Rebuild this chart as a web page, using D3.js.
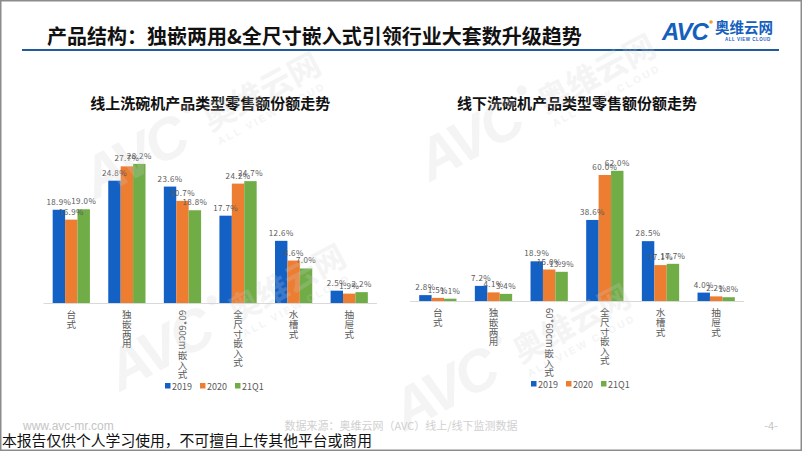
<!DOCTYPE html>
<html>
<head>
<meta charset="utf-8">
<script src="https://cdn.jsdelivr.net/npm/d3@7"></script>
<style>
  body { margin: 0; background: #fff; }
  svg { display: block; font-family: "Noto Sans CJK SC", "Noto Sans", sans-serif; }
</style>
</head>
<body>
<svg id="chart" width="802" height="451"></svg>
<script>
// categories and series
var categories = ["台式", "独嵌两用", "60*60cm嵌入式", "全尺寸嵌入式", "水槽式", "抽屉式"];
var seriesNames = ["2019", "2020", "21Q1"];
var seriesColors = ["#1461c6", "#ed7d31", "#70ad47"];

// online share (%)
var online2019 = [18.9, 24.8, 23.6, 17.7, 12.6, 2.5];
var online2020 = [16.9, 27.7, 20.7, 24.2, 8.6, 1.9];
var online21Q1 = [19.0, 28.2, 18.8, 24.7, 7.0, 2.2];

// offline share (%)
var offline2019 = [2.8, 7.2, 18.9, 38.6, 28.5, 4.0];
var offline2020 = [1.5, 4.1, 15.0, 60.0, 17.1, 2.2];
var offline21Q1 = [1.1, 3.4, 13.9, 62.0, 17.7, 1.8];

var svg = d3.select("#chart");

// page frame
svg.append("rect")
  .attr("x", 0.75).attr("y", 0.75)
  .attr("width", 800.5).attr("height", 449.5)
  .attr("fill", "#fff").attr("stroke", "#8c8c8c").attr("stroke-width", 1.5);

// header
svg.append("text")
  .attr("x", 47).attr("y", 44)
  .attr("font-size", 20).attr("font-weight", "bold").attr("fill", "#111")
  .text("产品结构：独嵌两用&全尺寸嵌入式引领行业大套数升级趋势");

svg.append("line")
  .attr("x1", 22).attr("x2", 779).attr("y1", 50).attr("y2", 50)
  .attr("stroke", "#1f5c99").attr("stroke-width", 2);

// logo
var logo = svg.append("g");
logo.append("text")
  .attr("x", 662).attr("y", 40)
  .attr("font-family", "Liberation Sans, sans-serif")
  .attr("font-size", 24).attr("font-weight", "bold").attr("font-style", "italic")
  .attr("fill", "#1560bd").attr("letter-spacing", -1)
  .text("AVC");
logo.append("circle").attr("cx", 711).attr("cy", 22).attr("r", 1.8).attr("fill", "#f0a030");
logo.append("text")
  .attr("x", 715).attr("y", 33)
  .attr("font-size", 14.5).attr("font-weight", "bold").attr("fill", "#1560bd")
  .text("奥维云网");
logo.append("text")
  .attr("x", 725).attr("y", 41)
  .attr("font-family", "Liberation Sans, sans-serif")
  .attr("font-size", 4.5).attr("font-weight", "bold").attr("fill", "#1560bd")
  .attr("letter-spacing", 0.5)
  .text("ALL VIEW CLOUD");

// vertical category label: CJK upright, latin runs rotated
function verticalLabel(g, label, x, y, fs) {
  var cursor = y;
  var runs = label.match(/[\u2e80-\uffff]|[^\u2e80-\uffff]+/g);
  runs.forEach(function(r) {
    if (r.charCodeAt(0) >= 0x2e80) {
      g.append("text")
        .attr("x", x).attr("y", cursor + fs * 0.88)
        .attr("text-anchor", "middle")
        .attr("font-size", fs).attr("fill", "#595959")
        .text(r);
      cursor += fs;
    } else {
      var t = g.append("text")
        .attr("transform", "translate(" + (x - fs * 0.35) + "," + cursor + ") rotate(90)")
        .attr("font-size", fs).attr("fill", "#595959")
        .text(r);
      cursor += t.node().getComputedTextLength() + 1;
    }
  });
}

function drawChart(opts) {
  var g = svg.append("g");

  g.append("text")
    .attr("x", (opts.x0 + opts.x1) / 2).attr("y", 109)
    .attr("text-anchor", "middle")
    .attr("font-size", 15).attr("font-weight", "bold").attr("fill", "#111")
    .text(opts.title);

  var x = d3.scaleBand().domain(categories).range([opts.x0, opts.x1])
    .paddingInner(0.33).paddingOuter(0.165);
  var xs = d3.scaleBand().domain(seriesNames).range([0, x.bandwidth()]);
  var y = d3.scaleLinear().domain([0, opts.yMax]).range([opts.base, opts.top]);

  // baseline
  g.append("line")
    .attr("x1", opts.x0).attr("x2", opts.x1)
    .attr("y1", opts.base + 0.5).attr("y2", opts.base + 0.5)
    .attr("stroke", "#d9d9d9");

  opts.series.forEach(function(vals, si) {
    var data = categories.map(function(c, i) { return {cat: c, v: vals[i]}; });
    g.selectAll(".bar" + si)
      .data(data)
      .enter()
      .append("rect")
        .attr("x", function(d) { return x(d.cat) + xs(seriesNames[si]); })
        .attr("y", function(d) { return y(d.v); })
        .attr("width", xs.bandwidth())
        .attr("height", function(d) { return opts.base - y(d.v); })
        .attr("fill", seriesColors[si]);
  });

  opts.series.forEach(function(vals, si) {
    var data = categories.map(function(c, i) { return {cat: c, v: vals[i]}; });
    g.selectAll(".lbl" + si)
      .data(data)
      .enter()
      .append("text")
        .attr("x", function(d) { return x(d.cat) + xs(seriesNames[si]) + xs.bandwidth() / 2; })
        .attr("y", function(d) { return y(d.v) - 5; })
        .attr("text-anchor", "middle")
        .attr("font-size", 8).attr("fill", "#595959")
        .attr("letter-spacing", 0.4)
        .text(function(d) { return d.v.toFixed(1) + "%"; });
  });

  categories.forEach(function(c) {
    verticalLabel(g, c, x(c) + x.bandwidth() / 2, opts.base + 7, 9.6);
  });

  // legend
  var lg = g.append("g").attr("transform", "translate(" + opts.legendX + "," + opts.legendY + ")");
  var lx = 0;
  seriesNames.forEach(function(s, i) {
    lg.append("rect").attr("x", lx).attr("y", -3).attr("width", 5.5).attr("height", 5.5)
      .attr("fill", seriesColors[i]);
    var t = lg.append("text").attr("x", lx + 7).attr("y", 3.5)
      .attr("font-size", 9).attr("fill", "#595959")
      .text(s);
    lx += 7 + t.node().getComputedTextLength() + 8;
  });
}

drawChart({
  title: "线上洗碗机产品类型零售额份额走势",
  x0: 43.5, x1: 377, base: 303, top: 155, yMax: 30,
  series: [online2019, online2020, online21Q1],
  legendX: 165, legendY: 386
});

drawChart({
  title: "线下洗碗机产品类型零售额份额走势",
  x0: 410, x1: 744, base: 301, top: 154, yMax: 70,
  series: [offline2019, offline2020, offline21Q1],
  legendX: 531, legendY: 384
});

// footer
svg.append("text")
  .attr("x", 23).attr("y", 430)
  .attr("font-family", "Liberation Sans, sans-serif")
  .attr("font-size", 12).attr("fill", "#c4c4c4")
  .text("www.avc-mr.com");
svg.append("text")
  .attr("x", 401).attr("y", 430).attr("text-anchor", "middle")
  .attr("font-size", 11).attr("fill", "#d0d0d0")
  .text("数据来源：奥维云网（AVC）线上/线下监测数据");
svg.append("text")
  .attr("x", 771).attr("y", 430).attr("text-anchor", "middle")
  .attr("font-size", 11).attr("fill", "#c4c4c4")
  .text("-4-");
svg.append("text")
  .attr("x", 2).attr("y", 446)
  .attr("font-size", 14.8).attr("fill", "#111")
  .text("本报告仅供个人学习使用，不可擅自上传其他平台或商用");

// watermarks
var marks = [[95, 200], [430, 182], [120, 392], [405, 432]];
marks.forEach(function(m) {
  var w = svg.append("g")
    .attr("transform", "translate(" + m[0] + "," + m[1] + ") rotate(-28)")
    .attr("fill", "#cfcfcf").attr("opacity", 0.22);
  w.append("text")
    .attr("font-family", "Liberation Sans, sans-serif")
    .attr("font-size", 58).attr("font-weight", "bold").attr("font-style", "italic")
    .attr("letter-spacing", -3)
    .text("AVC");
  w.append("circle").attr("cx", 124).attr("cy", -38).attr("r", 5);
  w.append("text").attr("x", 134).attr("y", -6)
    .attr("font-size", 32).attr("font-weight", "bold")
    .text("奥维云网");
  w.append("text").attr("x", 136).attr("y", 10)
    .attr("font-family", "Liberation Sans, sans-serif")
    .attr("font-size", 10).attr("font-weight", "bold").attr("letter-spacing", 2.5)
    .text("ALL VIEW CLOUD");
});
</script>
</body>
</html>
